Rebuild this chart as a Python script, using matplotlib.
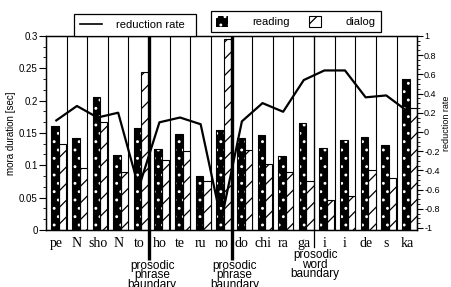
import matplotlib
matplotlib.use('Agg')
import matplotlib.pyplot as plt
from matplotlib.ticker import MultipleLocator, AutoMinorLocator
from matplotlib.lines import Line2D
from matplotlib.patches import Patch
import numpy as np

# morae of the utterance
morae = ['pe', 'N', 'sho', 'N', 'to', 'ho', 'te', 'ru', 'no',
         'do', 'chi', 'ra', 'ga', 'i', 'i', 'de', 's', 'ka']

# mora duration [sec]
reading = [0.160, 0.142, 0.205, 0.116, 0.157, 0.125, 0.148, 0.084, 0.155,
           0.142, 0.146, 0.115, 0.165, 0.126, 0.139, 0.143, 0.131, 0.233]
dialog = [0.133, 0.096, 0.167, 0.089, 0.244, 0.108, 0.122, 0.075, 0.295,
          0.124, 0.102, 0.090, 0.075, 0.046, 0.052, 0.093, 0.081, 0.188]

# reduction rate (right axis)
reduction = [0.12, 0.27, 0.15, 0.20, -0.58, 0.10, 0.15, 0.08, -0.92,
             0.11, 0.30, 0.21, 0.54, 0.64, 0.64, 0.36, 0.38, 0.22]

# boundaries sit between morae
phrase_bounds = [4.5, 8.5]
word_bounds = [12.5]

SANS = 'Liberation Sans'
SERIF = 'Liberation Serif'
plt.rcParams['font.family'] = SANS
plt.rcParams['hatch.linewidth'] = 0.9

fig = plt.figure(figsize=(4.51, 2.87), dpi=100)
ax = fig.add_axes([0.102, 0.199, 0.823, 0.676])
ax2 = ax.twinx()

x = np.arange(len(morae))

# category separators
for k in range(len(morae) - 1):
    ax.axvline(k + 0.5, color='black', lw=0.8, zorder=0)

# reading bars: black with white dots, then a black outline
ax.bar(x - 0.24, reading, width=0.37, align='edge', color='black',
       edgecolor='white', hatch='..', lw=0, zorder=2)
ax.bar(x - 0.24, reading, width=0.37, align='edge', fill=False,
       edgecolor='black', lw=0.8, zorder=3)
# dialog bars: white with slashes
ax.bar(x + 0.13, dialog, width=0.35, align='edge', color='white',
       edgecolor='black', hatch='//', lw=0.8, zorder=2)

ax.set_xlim(-0.5, len(morae) - 0.5)
ax.set_ylim(0, 0.3)
ax.yaxis.set_major_locator(MultipleLocator(0.05))
ax.yaxis.set_minor_locator(AutoMinorLocator(3))
ax.set_yticks([0, 0.05, 0.1, 0.15, 0.2, 0.25, 0.3])
ax.set_yticklabels(['0', '0.05', '0.1', '0.15', '0.2', '0.25', '0.3'])
ax.set_xticks(x)
ax.set_xticklabels(morae, fontfamily=SERIF, fontsize=10)
ax.tick_params(axis='x', length=0, pad=5)
ax.tick_params(axis='y', which='major', length=5, width=0.8, labelsize=7, pad=1)
ax.tick_params(axis='y', which='minor', length=2.5, width=0.6)
ax.set_ylabel('mora duration [sec]', fontsize=7, labelpad=2)

# reduction rate line
ax2.plot(x, reduction, color='black', lw=1.6, zorder=5)
ax2.set_ylim(-1.02, 1.0)
ax2.set_yticks(np.arange(-1, 1.01, 0.2))
ax2.set_yticklabels(['-1', '-0.8', '-0.6', '-0.4', '-0.2', '0',
                     '0.2', '0.4', '0.6', '0.8', '1'])
ax2.yaxis.set_minor_locator(AutoMinorLocator(4))
ax2.tick_params(axis='y', which='major', length=4, width=0.8, labelsize=6.5, pad=1)
ax2.tick_params(axis='y', which='minor', length=2, width=0.6)
ax2.set_ylabel('reduction rate', fontsize=6.5, rotation=90)
ax2.yaxis.set_label_coords(1.08, 0.55)
ax2.yaxis.label.set_verticalalignment('center')

for spine in list(ax.spines.values()) + list(ax2.spines.values()):
    spine.set_linewidth(0.9)

# boundary markers
tr = ax2.get_xaxis_transform()
for b in phrase_bounds:
    ax2.plot([b, b], [-0.155, 1.0], color='black', lw=2.4, transform=tr,
             clip_on=False, zorder=6, solid_capstyle='butt')
    ax2.text(b + 0.15, -0.155, 'prosodic\nphrase\nbaundary', transform=tr,
             ha='center', va='top', fontsize=8.5, linespacing=0.72)
for b in word_bounds:
    ax2.plot([b, b], [-0.09, 1.0], color='black', lw=0.9, transform=tr,
             clip_on=False, zorder=6)
    ax2.text(b + 0.05, -0.1, 'prosodic\nword\nbaundary', transform=tr,
             ha='center', va='top', fontsize=8.5, linespacing=0.72)

# legends in two separate boxes above the plot
leg1 = fig.legend(handles=[Line2D([], [], color='black', lw=1.2)],
                  labels=['reduction rate'], loc='lower left',
                  bbox_to_anchor=(0.164, 0.875, 0.27, 0.084), mode='expand',
                  fontsize=8, frameon=True, fancybox=False, edgecolor='black',
                  framealpha=1, handlelength=2.0, handletextpad=1.2,
                  borderaxespad=0, borderpad=0.55)
leg1.get_frame().set_linewidth(0.9)

h_read = Patch(facecolor='black', edgecolor='white', hatch='..', lw=0)
h_dia = Patch(facecolor='white', edgecolor='black', hatch='//', lw=0.8)
leg2 = fig.legend(handles=[h_read, h_dia], labels=['reading', 'dialog'],
                  loc='upper left', ncol=2,
                  bbox_to_anchor=(0.468, 1 - 11 / 287),
                  fontsize=8, frameon=True, fancybox=False, edgecolor='black',
                  framealpha=1, handlelength=1.1, handleheight=1.1,
                  handletextpad=2.2, columnspacing=1.7,
                  borderaxespad=0, borderpad=0.45)
leg2.get_frame().set_linewidth(0.9)

fig.savefig('out.png', dpi=100)
